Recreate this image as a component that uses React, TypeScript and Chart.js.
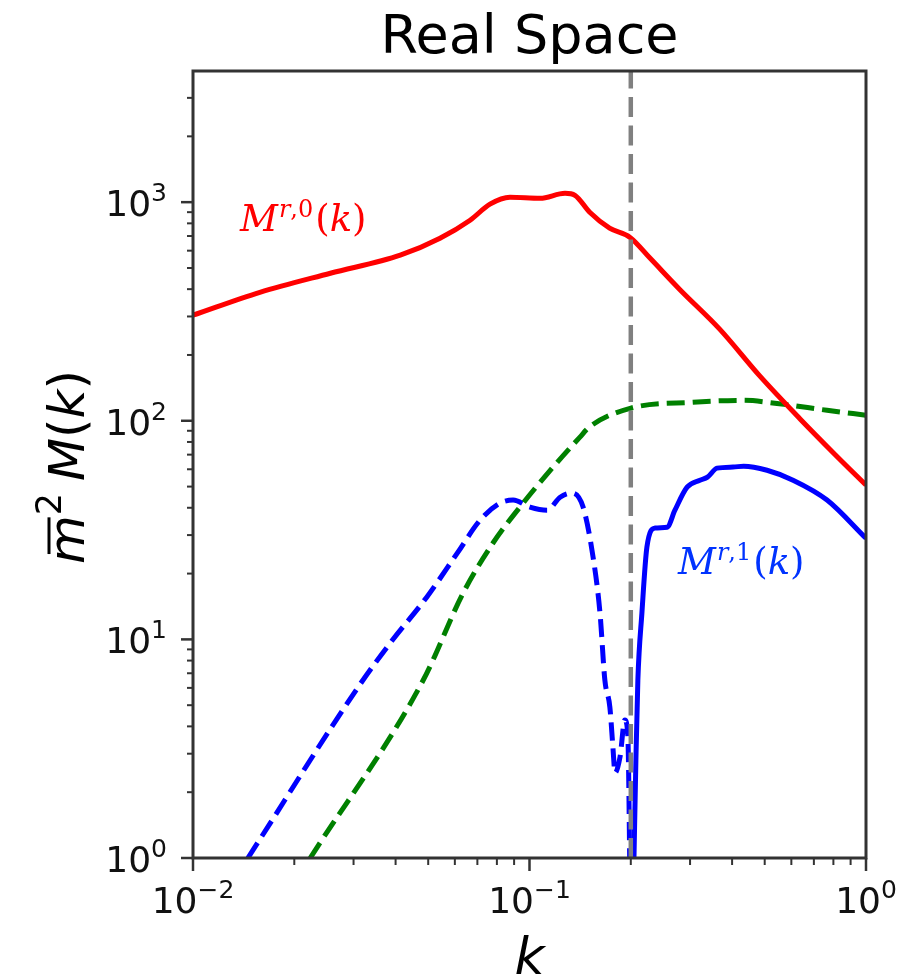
import React, { useEffect, useRef } from 'react';
import { Chart, registerables } from 'chart.js';

Chart.register(...registerables);

// ---- data ----
const kRed = [0.01, 0.0158, 0.0256, 0.0413, 0.0542, 0.0666, 0.0763, 0.0875, 0.1075, 0.1275, 0.1365, 0.151, 0.173, 0.199, 0.228, 0.28, 0.368, 0.484, 0.637, 0.81, 1.0];
const mRed = [304, 387, 473, 572, 684, 827, 979, 1053, 1042, 1098, 1075, 899, 760, 690, 555, 398, 262, 160, 102, 70, 50.8];

const kGreen = [0.0223, 0.0483, 0.0635, 0.0779, 0.0957, 0.1175, 0.141, 0.1505, 0.199, 0.306, 0.433, 0.544, 0.766, 1.0];
const mGreen = [1.0, 6.5, 16.3, 27.6, 42, 61.4, 84, 93.5, 114, 121.6, 124, 120, 111.7, 106];

const kBlueDash = [0.01456, 0.0313, 0.0385, 0.0495, 0.061, 0.0713, 0.0817, 0.0894, 0.1003, 0.1128, 0.1233, 0.1337, 0.1443, 0.1545, 0.162, 0.1675, 0.1733, 0.177, 0.1795, 0.1858, 0.192, 0.196, 0.1995];
const mBlueDash = [1, 6.2, 9.6, 15.6, 24.8, 35.1, 42, 43.4, 40.3, 39, 44.7, 46.7, 40.3, 23.8, 13.2, 6.5, 4.9, 3.2, 2.45, 2.9, 4.28, 3.6, 0.5];

const kBlueSolid = [0.2025, 0.2044, 0.2071, 0.2099, 0.2158, 0.2233, 0.236, 0.2564, 0.2705, 0.294, 0.321, 0.338, 0.361, 0.4027, 0.433, 0.508, 0.607, 0.766, 1.0];
const mBlueSolid = [0.5, 1, 2.8, 6.5, 13.2, 26.4, 32.3, 32.6, 39, 49.7, 53.5, 55.2, 60.7, 61.4, 62, 59.4, 53.5, 43.4, 29];

const kCut = [0.2, 0.2];
const mCut = [1, 3981];

const xRange = [0.01, 1];
const yRange = [1, 3981];
const xTickExps = [-2, -1, 0];
const yTickExps = [0, 1, 2, 3];

const title = 'Real Space';

const toXY = (ks: number[], ms: number[]) => ks.map((k, i) => ({ x: k, y: ms[i] }));
const supStr = (n: number) => (n < 0 ? '\u2212' + Math.abs(n) : String(n));

type Piece = { t: string; font: string; dy?: number; gapAfter?: number; bar?: boolean };

function richWidth(ctx: CanvasRenderingContext2D, pieces: Piece[]) {
  let w = 0;
  for (const p of pieces) {
    ctx.font = p.font;
    w += ctx.measureText(p.t).width + (p.gapAfter || 0);
  }
  return w;
}

function drawRich(ctx: CanvasRenderingContext2D, pieces: Piece[], x: number, y: number, color: string) {
  let cx = x;
  ctx.fillStyle = color;
  ctx.strokeStyle = color;
  ctx.textAlign = 'left';
  ctx.textBaseline = 'alphabetic';
  for (const p of pieces) {
    ctx.font = p.font;
    const w = ctx.measureText(p.t).width;
    ctx.fillText(p.t, cx, y + (p.dy || 0));
    if (p.bar) {
      ctx.lineWidth = 3;
      ctx.beginPath();
      ctx.moveTo(cx + 10, y - 35);
      ctx.lineTo(cx + w - 2, y - 35);
      ctx.stroke();
    }
    cx += w + (p.gapAfter || 0);
  }
}

const decor = {
  id: 'decor',
  afterDatasetsDraw(chart: any) {
    const ctx: CanvasRenderingContext2D = chart.ctx;
    const { left, right, top, bottom } = chart.chartArea;
    const xs = chart.scales.x;
    const ys = chart.scales.y;
    const axisColor = '#333333';
    ctx.save();

    // spines
    ctx.strokeStyle = axisColor;
    ctx.lineWidth = 3;
    ctx.strokeRect(left, top, right - left, bottom - top);

    // x ticks
    ctx.lineCap = 'butt';
    for (const e of xTickExps) {
      const px = xs.getPixelForValue(Math.pow(10, e));
      ctx.strokeStyle = axisColor;
      ctx.lineWidth = 2.5;
      ctx.beginPath();
      ctx.moveTo(px, bottom);
      ctx.lineTo(px, bottom + 13);
      ctx.stroke();
      if (e < 0) {
        for (let m = 2; m <= 9; m++) {
          const mx = xs.getPixelForValue(m * Math.pow(10, e));
          ctx.lineWidth = 2;
          ctx.beginPath();
          ctx.moveTo(mx, bottom);
          ctx.lineTo(mx, bottom + 7);
          ctx.stroke();
        }
      }
      const pieces: Piece[] = [
        { t: '10', font: '36px "DejaVu Sans"' },
        { t: supStr(e), font: '25px "DejaVu Sans"', dy: -15 },
      ];
      const w = richWidth(ctx, pieces);
      drawRich(ctx, pieces, px - w / 2, 913, '#111111');
    }

    // y ticks
    for (const e of yTickExps) {
      const py = ys.getPixelForValue(Math.pow(10, e));
      ctx.strokeStyle = axisColor;
      ctx.lineWidth = 2.5;
      ctx.beginPath();
      ctx.moveTo(left, py);
      ctx.lineTo(left - 12, py);
      ctx.stroke();
      for (let m = 2; m <= 9; m++) {
        const v = m * Math.pow(10, e);
        if (v > yRange[1]) break;
        const my = ys.getPixelForValue(v);
        ctx.lineWidth = 2;
        ctx.beginPath();
        ctx.moveTo(left, my);
        ctx.lineTo(left - 6, my);
        ctx.stroke();
      }
      const pieces: Piece[] = [
        { t: '10', font: '36px "DejaVu Sans"' },
        { t: supStr(e), font: '25px "DejaVu Sans"', dy: -15 },
      ];
      const w = richWidth(ctx, pieces);
      drawRich(ctx, pieces, 167 - w, py + 14, '#111111');
    }

    // title
    ctx.fillStyle = '#000000';
    ctx.font = '54px "DejaVu Sans"';
    ctx.textAlign = 'center';
    ctx.textBaseline = 'alphabetic';
    ctx.fillText(title, (left + right) / 2, 53);

    // x axis title
    ctx.font = 'italic 52px "DejaVu Sans"';
    ctx.fillText('k', (left + right) / 2, 974);

    // y axis title (rotated)
    const yPieces: Piece[] = [
      { t: 'm', font: 'italic 50px "DejaVu Sans"', bar: true },
      { t: '2', font: '35px "DejaVu Sans"', dy: -23, gapAfter: 12 },
      { t: 'M', font: 'italic 50px "DejaVu Sans"' },
      { t: '(', font: '50px "DejaVu Sans"' },
      { t: 'k', font: 'italic 50px "DejaVu Sans"' },
      { t: ')', font: '50px "DejaVu Sans"' },
    ];
    ctx.save();
    ctx.translate(84, 467);
    ctx.rotate(-Math.PI / 2);
    const yw = richWidth(ctx, yPieces);
    drawRich(ctx, yPieces, -yw / 2, 0, '#000000');
    ctx.restore();

    // annotations
    const ann = (sup: string): Piece[] => [
      { t: 'M', font: 'italic 37px "DejaVu Serif"', gapAfter: 1 },
      { t: 'r', font: 'italic 24px "DejaVu Serif"', dy: -14 },
      { t: ',' + sup, font: '24px "DejaVu Serif"', dy: -14, gapAfter: 2 },
      { t: '(', font: '37px "DejaVu Serif"' },
      { t: 'k', font: 'italic 37px "DejaVu Serif"' },
      { t: ')', font: '37px "DejaVu Serif"' },
    ];
    drawRich(ctx, ann('0'), 240, 231, '#ff0000');
    drawRich(ctx, ann('1'), 678, 574, '#0033ff');

    ctx.restore();
  },
};

export default function App() {
  const ref = useRef<HTMLCanvasElement | null>(null);
  useEffect(() => {
    document.body.style.margin = '0';
    const canvas = ref.current;
    if (!canvas) return;
    const dash = [18, 8];
    const lw = 5;
    const chart = new Chart(canvas, {
      type: 'line',
      data: {
        datasets: [
          { data: toXY(kCut, mCut), borderColor: '#808080', borderWidth: 4.5, borderDash: [20, 8.5], pointRadius: 0, clip: 0 },
          { data: toXY(kRed, mRed), borderColor: '#ff0000', borderWidth: lw, pointRadius: 0, cubicInterpolationMode: 'monotone', clip: 0 },
          { data: toXY(kGreen, mGreen), borderColor: '#008000', borderWidth: lw, borderDash: dash, pointRadius: 0, cubicInterpolationMode: 'monotone', clip: 0 },
          { data: toXY(kBlueDash, mBlueDash), borderColor: '#0000ff', borderWidth: lw, borderDash: dash, pointRadius: 0, cubicInterpolationMode: 'monotone', clip: 0 },
          { data: toXY(kBlueSolid, mBlueSolid), borderColor: '#0000ff', borderWidth: lw, pointRadius: 0, cubicInterpolationMode: 'monotone', clip: 0 },
        ] as any,
      },
      options: {
        animation: false,
        responsive: false,
        layout: { padding: { left: 0, right: 56, top: 71, bottom: 0 } },
        plugins: { legend: { display: false }, tooltip: { enabled: false }, title: { display: false } },
        scales: {
          x: {
            type: 'logarithmic',
            min: xRange[0],
            max: xRange[1],
            grid: { display: false },
            border: { display: false },
            ticks: { display: false },
            afterFit: (s: any) => { s.height = 121; },
          },
          y: {
            type: 'logarithmic',
            min: yRange[0],
            max: yRange[1],
            grid: { display: false },
            border: { display: false },
            ticks: { display: false },
            afterFit: (s: any) => { s.width = 193; },
          },
        },
      } as any,
      plugins: [decor],
    });
    return () => chart.destroy();
  }, []);
  return (
    <div style={{ position: 'fixed', left: 0, top: 0, width: 922, height: 979, background: '#ffffff' }}>
      <canvas ref={ref} width={922} height={979} style={{ display: 'block' }} />
    </div>
  );
}
